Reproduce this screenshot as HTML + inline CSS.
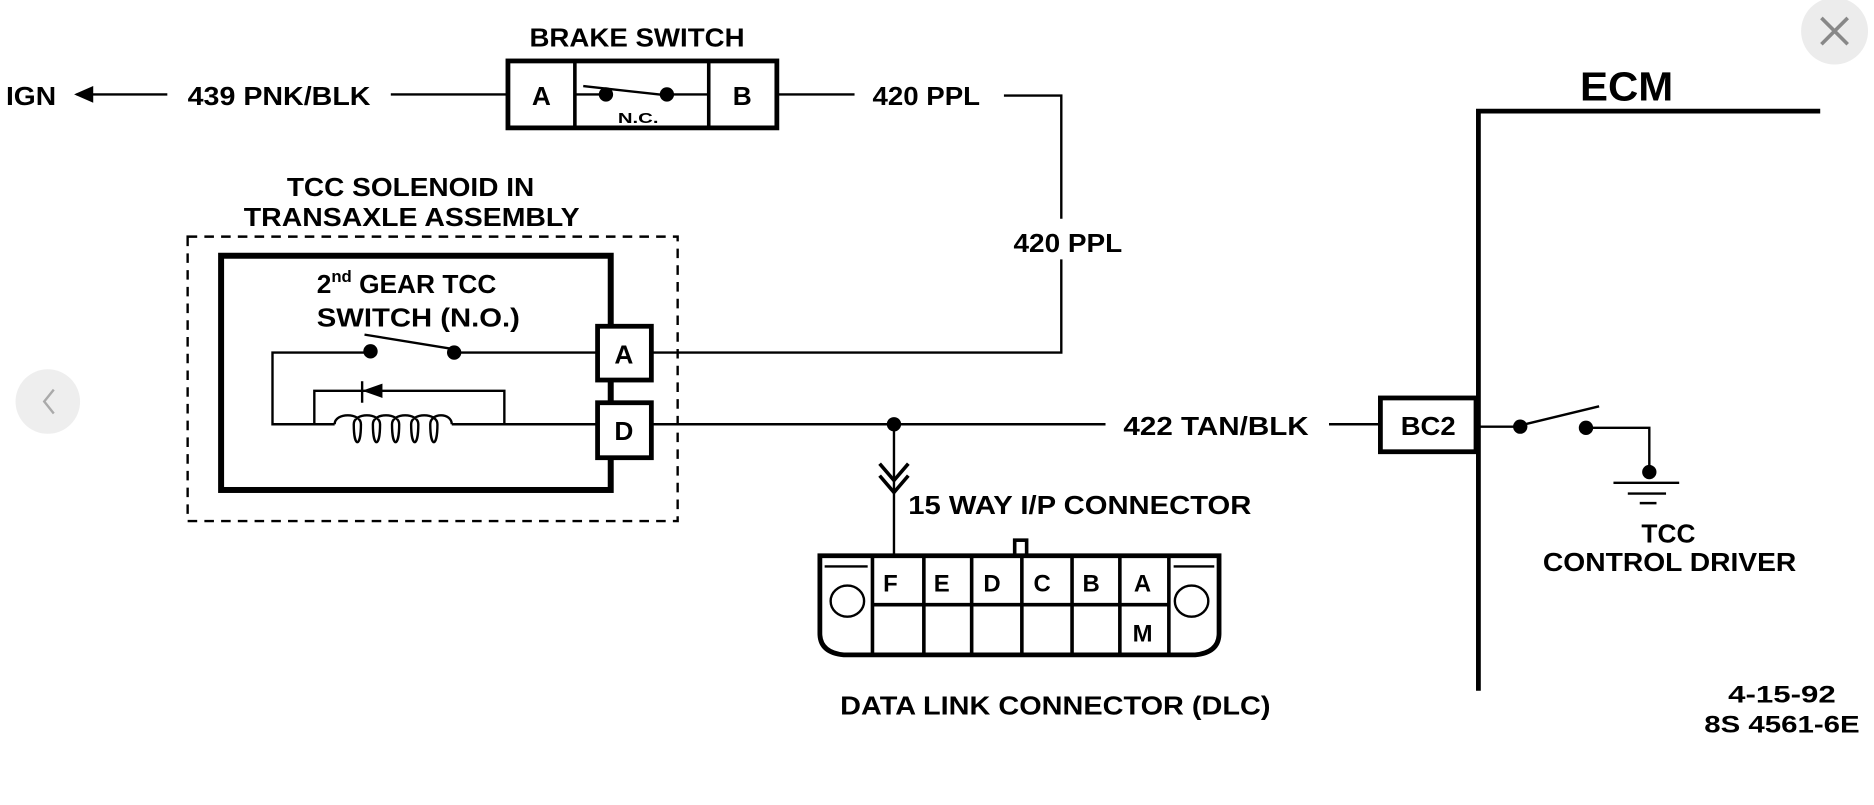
<!DOCTYPE html>
<html><head><meta charset="utf-8"><style>
html,body{margin:0;padding:0;background:#fff;}
svg{display:block;}
text{font-family:"Liberation Sans",sans-serif;font-weight:bold;fill:#000;}
</style></head><body>
<svg width="1874" height="805" viewBox="0 0 1568 673.6" preserveAspectRatio="none" xmlns="http://www.w3.org/2000/svg">
<rect width="1568" height="674" fill="#fff"/>
<circle cx="1535" cy="26" r="28" fill="#ececec"/>
<path d="M1524 15 L1546 37 M1546 15 L1524 37" stroke="#888" stroke-width="3"/>
<circle cx="40" cy="336" r="27" fill="#eeeeee"/>
<path d="M45 326 L37 336 L45 346" stroke="#aaa" stroke-width="2" fill="none"/>

<g stroke="#000" fill="none" stroke-width="2">
<line x1="64" y1="79" x2="140" y2="79"/>
<line x1="327" y1="79" x2="425" y2="79"/>
<rect x="425" y="51" width="225" height="56" stroke-width="4"/>
<line x1="481" y1="51" x2="481" y2="107" stroke-width="3"/>
<line x1="593" y1="51" x2="593" y2="107" stroke-width="3"/>
<line x1="481" y1="79" x2="505" y2="79"/>
<line x1="488" y1="72" x2="560" y2="80"/>
<line x1="560" y1="79" x2="593" y2="79"/>
<line x1="650" y1="79" x2="715" y2="79"/>
<polyline points="840,80 888,80 888,183"/>
<polyline points="888,217 888,295 545,295"/>
<rect x="157" y="198" width="410" height="238" stroke-dasharray="8,6"/>
<rect x="185" y="214" width="326" height="196" stroke-width="5"/>
<rect x="500" y="273" width="45" height="45" stroke-width="4" fill="#fff"/>
<rect x="500" y="337" width="45" height="46" stroke-width="4" fill="#fff"/>
<polyline points="499,295 380,295"/>
<line x1="305" y1="280" x2="385" y2="293"/>
<polyline points="310,295 228,295 228,355 280,355"/>
<polyline points="378,355 499,355"/>
<polyline points="263,355 263,327 422,327 422,355"/>
<line x1="303" y1="319" x2="303" y2="337"/>
<path d="M280 355 c0 -10 22 -10 22 0 c0 20 -6 20 -6 0 c0 -10 22 -10 22 0 c0 20 -6 20 -6 0 c0 -10 22 -10 22 0 c0 20 -6 20 -6 0 c0 -10 22 -10 22 0 c0 20 -6 20 -6 0 c0 -10 22 -10 22 0 c0 20 -6 20 -6 0 c0 -10 18 -10 18 0" fill="none"/>
<line x1="545" y1="355" x2="925" y2="355"/>
<line x1="1112" y1="355" x2="1155" y2="355"/>
<line x1="748" y1="355" x2="748" y2="465"/>
<polyline points="736,388 748,402 760,388" stroke-width="3"/>
<polyline points="736,398 748,412 760,398" stroke-width="3"/>
<path d="M686 465 L1020 465 L1020 530 Q1020 546 1000 548 L706 548 Q686 546 686 530 Z" stroke-width="4"/>
<rect x="849" y="452" width="10" height="13" stroke-width="3"/>
<line x1="690" y1="474" x2="726" y2="474"/>
<line x1="982" y1="474" x2="1016" y2="474"/>
<g stroke-width="3">
<line x1="730" y1="465" x2="730" y2="548"/>
<line x1="773" y1="465" x2="773" y2="548"/>
<line x1="813" y1="465" x2="813" y2="548"/>
<line x1="855" y1="465" x2="855" y2="548"/>
<line x1="897" y1="465" x2="897" y2="548"/>
<line x1="937" y1="465" x2="937" y2="548"/>
<line x1="978" y1="465" x2="978" y2="548"/>
<line x1="730" y1="506" x2="978" y2="506"/>
</g>
<ellipse cx="709" cy="503" rx="14" ry="13"/>
<ellipse cx="997" cy="503" rx="14" ry="13"/>
<polyline points="1237,578 1237,93 1523,93" stroke-width="4"/>
<rect x="1155" y="333" width="80" height="45" stroke-width="4" fill="#fff"/>
<line x1="1235" y1="357" x2="1272" y2="357"/>
<line x1="1272" y1="356" x2="1338" y2="340"/>
<polyline points="1327,358 1380,358 1380,395"/>
<line x1="1350" y1="404" x2="1405" y2="404"/>
<line x1="1362" y1="413" x2="1394" y2="413"/>
<line x1="1372" y1="421" x2="1386" y2="421"/>
</g>
<g fill="#000">
<polygon points="62,79 78,72 78,86"/>
<circle cx="507" cy="79" r="6"/><circle cx="558" cy="79" r="6"/>
<circle cx="310" cy="294" r="6"/><circle cx="380" cy="295" r="6"/>
<polygon points="303,327 320,321 320,333"/>
<circle cx="748" cy="355" r="6"/>
<circle cx="1272" cy="357" r="6"/><circle cx="1327" cy="358" r="6"/>
<circle cx="1380" cy="395" r="6"/>
</g>
<text x="5" y="88" font-size="22" textLength="42" lengthAdjust="spacingAndGlyphs">IGN</text>
<text x="157" y="88" font-size="22" textLength="153" lengthAdjust="spacingAndGlyphs">439 PNK/BLK</text>
<text x="443" y="39" font-size="22" textLength="180" lengthAdjust="spacingAndGlyphs">BRAKE SWITCH</text>
<text x="453" y="88" font-size="22" text-anchor="middle">A</text>
<text x="621" y="88" font-size="22" text-anchor="middle">B</text>
<text x="517" y="103" font-size="12" font-weight="normal" textLength="34" lengthAdjust="spacingAndGlyphs">N.C.</text>
<text x="730" y="88" font-size="22" textLength="90" lengthAdjust="spacingAndGlyphs">420 PPL</text>
<text x="848" y="211" font-size="22" textLength="91" lengthAdjust="spacingAndGlyphs">420 PPL</text>
<text x="240" y="164" font-size="22" textLength="207" lengthAdjust="spacingAndGlyphs">TCC SOLENOID IN</text>
<text x="204" y="189" font-size="22" textLength="281" lengthAdjust="spacingAndGlyphs">TRANSAXLE ASSEMBLY</text>
<text x="265" y="245" font-size="22">2<tspan font-size="14" dy="-9">nd</tspan><tspan dy="9"> GEAR TCC</tspan></text>
<text x="265" y="273" font-size="22" textLength="170" lengthAdjust="spacingAndGlyphs">SWITCH (N.O.)</text>
<text x="522" y="304" font-size="22" text-anchor="middle">A</text>
<text x="522" y="368" font-size="22" text-anchor="middle">D</text>
<text x="940" y="364" font-size="22" textLength="155" lengthAdjust="spacingAndGlyphs">422 TAN/BLK</text>
<text x="1172" y="364" font-size="22" textLength="46" lengthAdjust="spacingAndGlyphs">BC2</text>
<text x="760" y="430" font-size="22" textLength="287" lengthAdjust="spacingAndGlyphs">15 WAY I/P CONNECTOR</text>
<g font-size="20" text-anchor="middle">
<text x="745" y="495">F</text><text x="788" y="495">E</text><text x="830" y="495">D</text>
<text x="872" y="495">C</text><text x="913" y="495">B</text><text x="956" y="495">A</text>
<text x="956" y="537">M</text>
</g>
<text x="703" y="598" font-size="22" textLength="360" lengthAdjust="spacingAndGlyphs">DATA LINK CONNECTOR (DLC)</text>
<text x="1322" y="84" font-size="34" textLength="78" lengthAdjust="spacingAndGlyphs">ECM</text>
<text x="1396" y="454" font-size="22" text-anchor="middle">TCC</text>
<text x="1291" y="478" font-size="22" textLength="212" lengthAdjust="spacingAndGlyphs">CONTROL DRIVER</text>
<text x="1446" y="588" font-size="20" textLength="90" lengthAdjust="spacingAndGlyphs">4-15-92</text>
<text x="1426" y="613" font-size="20" textLength="130" lengthAdjust="spacingAndGlyphs">8S 4561-6E</text>
</svg>
</body></html>
